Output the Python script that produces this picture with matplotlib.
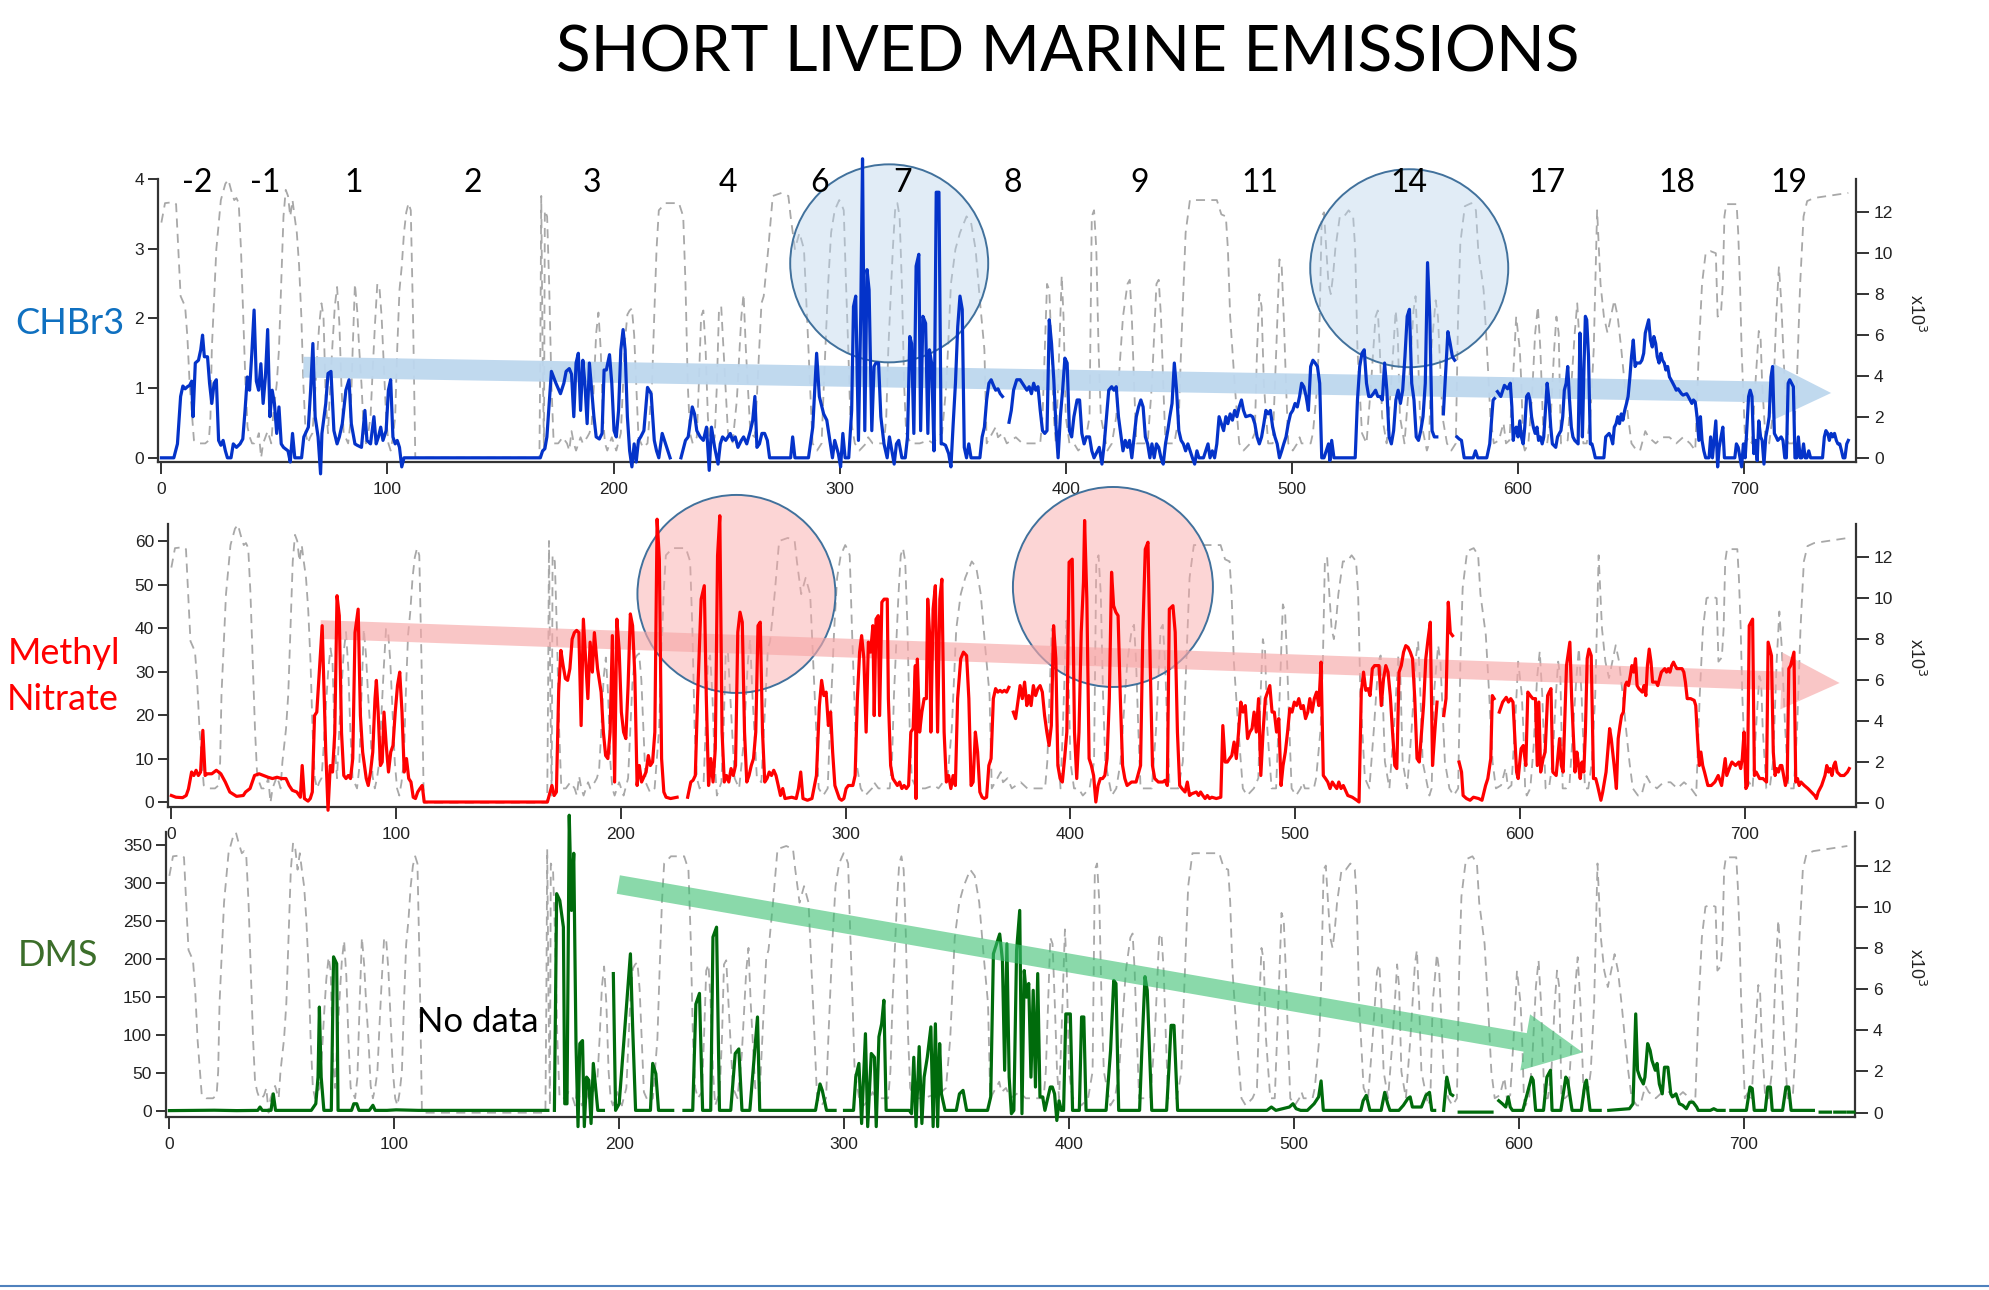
import numpy as np
import matplotlib.pyplot as plt
from matplotlib.patches import Circle
from matplotlib.lines import Line2D
from matplotlib.transforms import Affine2D, ScaledTranslation

nan = float("nan")

# ---- data ----
# altitude trace, right axis (x10^3), same in all three panels
altitude = [
    (0, 11.5), (1.6, 12.45), (5.5, 12.5), (6.5, 12.4), (7.5, 10.2), (8.5, 7.9), (10.5, 7.4), (11.5, 5.9),
    (12.5, 3.6), (14.4, 0.85), (16.4, 0.7), (19.4, 0.7), (21, 0.85), (21.7, 2), (22.3, 5.3), (24.3, 10.2),
    (26.3, 12.6), (28.3, 13.4), (29.6, 13.6), (30.8, 13.1), (32.2, 12.6), (33.2, 12.7), (34.2, 12.45),
    (35.2, 10.2), (36.2, 6.9), (37.2, 3.6), (38.1, 1.5), (39.1, 1), (40.1, 0.7), (41.1, 0.7), (42.1, 0.85),
    (43.1, 1.2), (44.1, 0), (45, 0.7), (46, 1), (47, 1.3), (48.6, 0.7), (49.4, 2), (51, 3.6), (52, 5.3),
    (53, 8.5), (54, 11.8), (55, 13.1), (56, 12.8), (57, 11.8), (58, 12.6), (58.9, 11.8), (59.9, 11),
    (60.9, 9.4), (61.9, 6.9), (62.8, 3.6), (63.8, 1.2), (64.8, 0.7), (65.8, 1), (66.8, 1.2), (67.8, 2.8),
    (68.8, 4.8), (69.8, 6.5), (70.8, 7.55), (71.7, 6.9), (72.7, 2.8), (73.7, 1.2), (74.7, 3.6), (75.7, 5.6),
    (76.7, 7.4), (77.7, 8.35), (78.7, 6.6), (79.6, 3.6), (80.6, 1.2), (82.6, 0.7), (83.6, 1.7), (84.6, 5.3),
    (85.6, 8.5), (86.6, 7.2), (87.5, 5.3), (88.5, 3.6), (89.5, 1.3), (90.5, 0.7), (91.5, 1.2), (92.5, 2),
    (93.5, 4.4), (94.5, 6.6), (95.5, 8.5), (96.4, 8.4), (97.4, 6.9), (98.4, 4.4), (99.4, 2), (100.4, 0.7),
    (101.4, 0.35), (102.4, 1), (103.4, 2), (104.3, 5.3), (105.3, 8.2), (106.3, 9.35), (107.3, 11),
    (108.3, 12), (109.3, 12.45), (110.3, 12.1), (111.3, 6.9), (112.3, 0), (167.2, 0), (167.6, 5.3),
    (168, 12.8), (168.6, 5.3), (169.2, 0.35), (169.6, 12.1), (170.6, 11.8), (171.5, 8.5), (172.5, 3.6),
    (173.5, 0.7), (175.5, 0.7), (177.5, 1), (179.4, 0.7), (180.4, 0.35), (181.4, 1.3), (182.4, 0.7),
    (183.4, 0.35), (185.4, 1), (186.4, 0.7), (188.3, 1), (189.3, 1.2), (190.3, 1.6), (191.3, 3.6),
    (192.3, 6.1), (193.3, 7.1), (194.3, 5.3), (195.3, 2), (196.2, 0.7), (197.2, 0.35), (199.2, 1),
    (201.2, 0.35), (203.2, 1.2), (204.2, 3.6), (205.1, 5.8), (206.1, 7), (207.1, 7.2), (208.1, 7.3),
    (209.1, 6), (210, 3.6), (211, 1), (213, 0.5), (215, 0.7), (217, 3.6), (218, 7), (219, 10.2), (220, 12.1),
    (223, 12.45), (228.9, 12.45), (230.8, 11.8), (231.8, 8.5), (232.8, 3.6), (233.8, 1.2), (235, 0.7),
    (236.8, 1), (237.7, 3.6), (238.7, 6.9), (239.7, 7.2), (240.7, 5.3), (241.7, 2), (242.7, 0.35),
    (244.7, 1), (245.7, 3.6), (246.6, 7.2), (247.6, 7.4), (248.6, 5.3), (250.6, 1.2), (252.6, 0.7),
    (254.5, 2.8), (256.5, 6.9), (257.5, 8), (258.5, 5.3), (260.5, 1.2), (262.5, 1), (264.4, 5.3),
    (265.4, 7.55), (266.4, 7.9), (268.4, 10.2), (270.4, 12.8), (274.3, 12.95), (277.3, 12.8), (278.3, 11.8),
    (280.2, 10.2), (282.2, 11), (284.2, 10.2), (286.2, 5.3), (288, 0.7), (290, 0.35), (292, 0.7), (293, 3.6),
    (294.9, 8.5), (296.2, 11), (297.8, 12.1), (299.8, 12.6), (300.8, 12.4), (301.8, 12.1), (302.8, 8.5),
    (303.8, 5.3), (304.7, 2), (306.7, 0.7), (308.7, 0.35), (311.7, 0.7), (312.6, 1), (314.6, 0.7),
    (319.6, 0.7), (320.6, 2), (321.5, 5.3), (323.5, 10.2), (324.5, 12.1), (325.5, 12.45), (326.5, 11.8),
    (327.5, 8.5), (328.5, 3.6), (329.4, 1.2), (331.4, 0.7), (335.4, 0.7), (339.3, 0.85), (341.3, 0.7),
    (343.3, 1), (345.3, 1.2), (347.2, 3.6), (349.2, 8.5), (351.2, 10.2), (353.2, 11), (356.1, 11.8),
    (358.1, 11.5), (360.1, 10.2), (362, 7.7), (364, 5.3), (365, 0.7), (369, 1.5), (370, 1), (372, 1.2),
    (373.9, 0.7), (377.9, 1), (380.8, 0.7), (388.7, 0.7), (389.7, 2), (390.7, 5.3), (391.7, 8.5),
    (392.7, 8.2), (393.7, 5.3), (394.7, 2), (395.6, 0.7), (396.6, 3.6), (397.6, 6.9), (398.2, 8.9),
    (399, 6.9), (400, 2), (401.6, 0.7), (403.6, 0.7), (405.5, 0.35), (408.5, 0.7), (410.5, 2), (411.5, 11.8),
    (412.5, 12.1), (413.5, 10.2), (414.5, 5.3), (415.5, 2), (418.4, 0.35), (420.4, 0.7), (422.3, 2),
    (425.3, 6.9), (427.3, 8.5), (428.3, 8.7), (429.2, 6.9), (430.2, 3.6), (431.2, 0.7), (436.2, 0.7),
    (438.1, 3.6), (440.1, 8.5), (441.1, 8.7), (442.1, 6.9), (443.1, 3.6), (444.1, 0.7), (448, 0.7),
    (450, 2), (451, 5.3), (453, 11), (454.9, 12.6), (466.8, 12.6), (468.8, 11.9), (470.8, 11.8),
    (471.7, 10.2), (472.7, 6.9), (474.7, 3.6), (476.7, 0.7), (478.6, 0.35), (481.6, 0.7), (483.6, 1.2),
    (484.6, 5.3), (485.6, 8), (486.6, 7.4), (487.6, 3.6), (489.5, 0.7), (491.5, 0.7), (493.1, 5.3),
    (494.5, 9.7), (495.5, 9.35), (496.4, 6.9), (497.4, 3.6), (498.4, 0.7), (500.4, 0.35), (502.4, 0.7),
    (503.4, 1), (504.3, 0.7), (508.3, 0.7), (509.3, 1.2), (511.3, 3.6), (512.3, 6.9), (513.2, 11.8),
    (514.2, 12), (515.2, 10.2), (516.2, 8.5), (517.2, 8), (518.2, 8.9), (519.2, 10.2), (521.2, 11.8),
    (523.1, 11.8), (525.1, 12.1), (527.1, 11.8), (528, 10.2), (529, 5.3), (531, 1.2), (533, 0.7),
    (535, 3.6), (537, 6.9), (538, 7.2), (538.9, 5.3), (539.9, 2), (541.9, 0.7), (543.9, 3.6), (545.9, 7.2),
    (546.8, 6.1), (547.8, 2), (549.8, 0.7), (551.8, 3.6), (553.8, 7.2), (554.7, 7.9), (555.7, 5.3),
    (556.7, 2), (559.7, 0.35), (560.7, 0.7), (561.7, 5.3), (563.6, 7.7), (564.6, 6.9), (566.6, 2),
    (568.6, 0.7), (570.5, 0.35), (572.5, 0.7), (573.5, 6.9), (574.5, 10.5), (576.5, 12.3), (579.4, 12.45),
    (581.4, 12.1), (582.4, 10.2), (584.8, 8.2), (586.3, 5.3), (587.8, 2), (589.3, 0.7), (591.6, 0.85),
    (592.4, 1.2), (593.6, 1.7), (594.7, 0.7), (596.2, 0.85), (597.7, 3.6), (599.2, 6.9), (600, 6.1),
    (600.8, 5.3), (601.5, 3.6), (602.3, 0.7), (603, 0.35), (604.6, 0.7), (606.1, 2.8), (607.6, 6.1),
    (608.8, 7.4), (609.9, 5.3), (611.4, 0.7), (612.9, 0.7), (614.5, 2), (616, 5.3), (617, 6.9), (618, 6.1),
    (619, 0.7), (620.5, 0.7), (622, 0.85), (623.6, 3.6), (625.1, 6.1), (626.2, 7.55), (627.4, 5.3),
    (628.9, 0.7), (630.4, 0.7), (632, 2), (633.5, 5.3), (634.2, 8.5), (635, 12.1), (635.8, 10.2),
    (636.5, 8.5), (638, 6.9), (639.6, 6.1), (641.1, 6.9), (642.6, 7.7), (644.1, 6.9), (645.7, 5.3),
    (647.2, 3.6), (648.7, 2), (650.2, 0.7), (652.5, 0.35), (654, 0.35), (656.3, 1.3), (657.8, 1),
    (660.9, 0.7), (663.9, 1), (667, 1), (670, 0.7), (673, 1), (676.1, 0.7), (678.4, 0.35), (680, 5.3),
    (681.4, 8.5), (683, 10), (685.2, 10.1), (687.5, 10), (688.3, 6.9), (689.8, 7.1), (690.6, 8.5),
    (691.3, 11.8), (692.1, 12.4), (696.7, 12.4), (697.4, 11), (698.2, 8.5), (698.9, 5.3), (700.5, 0.7),
    (702, 1), (703.5, 0.7), (705, 3.6), (706.5, 6.2), (707.3, 5.9), (708, 3.6), (709.6, 0.7), (711.1, 0.7),
    (712.6, 2), (714.2, 6.9), (715.4, 9.35), (716.4, 7.7), (718, 3.6), (719.5, 0.7), (721.8, 0.7),
    (723.3, 3.6), (724.8, 8.5), (726.3, 11.8), (727.9, 12.55), (730.9, 12.7), (737, 12.8), (746.1, 12.95),
]

chbr3 = [
    (0, 0), (5.5, 0), (7.1, 0.2), (8.5, 0.88), (9.5, 1.03), (10.5, 0.99), (11.5, 1.02), (12.5, 1.04),
    (13.4, 1.1), (14, 0.59), (15, 1.36), (16.4, 1.4), (17.4, 1.55), (18.2, 1.76), (19, 1.45), (20.4, 1.45),
    (21.3, 1.07), (22.3, 0.78), (23.3, 1.07), (24.3, 1.12), (25.3, 0.25), (26.3, 0.18), (27.3, 0.25),
    (28.3, 0.1), (29.2, 0), (30.8, 0), (31.8, 0.2), (33.2, 0.15), (34.8, 0.2), (36, 0.27), (37, 0.68),
    (38, 1.16), (39, 0.97), (40, 1.5), (41, 2.12), (42, 1.1), (43, 0.97), (44, 1.35), (45, 0.78), (46, 1.16),
    (47, 1.84), (48, 0.59), (49, 0.97), (50, 0.78), (51, 0.35), (52, 0.73), (53, 0.2), (54, 0.15), (56, 0.1),
    (57, -0.06), (58, 0.35), (59, 0), (62, 0), (63, 0.3), (65, 0.44), (66, 0.97), (67, 1.64), (68, 0.59),
    (69.3, 0.3), (70.4, -0.23), (71, 0.35), (72.7, 0.78), (73.7, 1.21), (75, 1.24), (76.3, 0.39),
    (77.7, 0.2), (78.7, 0.3), (80, 0.49), (81.6, 0.97), (83, 1.12), (84, 0.49), (85.6, 0.2), (86.6, 0.18),
    (88.5, 0.15), (90, 0.68), (90.9, 0.25), (92.5, 0.2), (94, 0.59), (95, 0.2), (96, 0.3), (97, 0.44),
    (98, 0.25), (99.4, 0.39), (100.4, 0.97), (101.4, 1.12), (102.4, 0.3), (103.4, 0.2), (104.3, 0.25),
    (105.3, 0.15), (106.3, -0.13), (107.3, 0), (167.6, 0), (168.6, 0.1), (169.6, 0.13), (170.5, 0.3),
    (172.5, 1.24), (174.5, 1.07), (176.5, 0.92), (178, 1.07), (179, 1.24), (180.4, 1.28), (181.4, 1.2),
    (182.4, 0.59), (183.4, 1.36), (184.4, 1.5), (185.4, 0.68), (186.4, 1.4), (187.3, 1.07), (188.3, 0.49),
    (189.3, 1.36), (190.3, 0.97), (191.3, 0.59), (192.3, 0.3), (193.7, 0.27), (194.9, 0.35), (195.8, 1.26),
    (196.8, 1.26), (198.2, 1.48), (199.2, 1.07), (200.2, 0.39), (201.2, 0.3), (202.2, 0.68), (203.2, 1.55),
    (204.2, 1.84), (205.1, 1.55), (206.1, 0.59), (207.1, 0.1), (208.1, -0.13), (209.1, 0.2), (210, -0.06),
    (211, 0.25), (212, 0.3), (213.4, 0.39), (215, 1.01), (216.6, 0.92), (218, 0.25), (219, 0.1), (220, 0),
    (221.5, 0.35), (222.5, 0.25), (224, 0.1), (225, 0), (227, nan), (229.8, 0), (231.8, 0.25), (233, 0.3),
    (234.8, 0.73), (235.8, 0.63), (236.8, 0.39), (238.3, 0.3), (239.7, 0.25), (241.1, 0.44),
    (242.3, -0.18), (243.3, 0.44), (244.7, 0.15), (246.2, -0.09), (247.2, 0.2), (248.2, 0.3), (249.6, 0.25),
    (251.6, 0.35), (252.6, 0.25), (253.8, 0.3), (255, 0.15), (256.5, 0.25), (257.5, 0.3), (258.9, 0.2),
    (260.5, 0.39), (261.5, 0.53), (262.5, 0.88), (263.4, 0.15), (264.5, 0.2), (265.6, 0.35), (266.8, 0.35),
    (268, 0.25), (269, 0), (278.3, 0), (279.2, 0.3), (280.2, 0), (286.2, 0), (288.1, 0.44), (289.8, 1.5),
    (291, 0.88), (292.9, 0.63), (294.3, 0.54), (295.9, 0.2), (296.8, 0), (297.8, 0.25), (299.4, 0.06),
    (300.4, -0.13), (301.4, 0.35), (302.4, 0), (304, 0), (305.3, 0.68), (306.1, 2.17), (307.1, 2.32),
    (308.3, 0.25), (309.3, 2.03), (310.1, 4.29), (311.1, 0.39), (312.1, 2.7), (313, 2.41), (314.2, 0.39),
    (315.2, 1.31), (316, 1.36), (317.2, 1.36), (318.2, 0.59), (319.6, 0.2), (321, 0), (322, 0.3),
    (323.1, 0.1), (324.1, -0.09), (325.1, 0.2), (326.1, 0.25), (327.5, 0), (329, 0), (330, 0.3), (331, 1.74),
    (331.8, 1.64), (332.8, 0.35), (333.8, 2.75), (335, 2.92), (335.8, 0.39), (336.8, 2.03), (338, 1.93),
    (339, 0.35), (339.7, 1.55), (340.7, 1.35), (341.7, 0.1), (342.7, 3.81), (343.9, 3.81), (344.9, 0.2),
    (345.7, 0.2), (346.8, 0.18), (348.2, 0.06), (349.2, -0.13), (350.2, 0.49), (351.2, 1.07), (352.2, 1.88),
    (353.2, 2.32), (354.2, 2.13), (355.1, 0.15), (356.1, 0), (357.1, 0.2), (358.1, 0), (362, 0), (363, 0.3),
    (364, 0.44), (365, 0.83), (366, 1.07), (367, 1.12), (368, 1.04), (369, 0.97), (370, 0.99), (371, 0.92),
    (372, 0.88), (373.5, nan), (374.9, 0.51), (375.9, 0.68), (376.9, 0.97), (378.3, 1.12), (379.8, 1.12),
    (380.8, 1.07), (381.8, 1.02), (382.8, 0.97), (383.8, 1.02), (384.8, 0.92), (385.8, 1.07), (386.7, 0.97),
    (387.7, 1.02), (388.7, 0.68), (389.7, 0.39), (390.7, 0.35), (391.7, 0.39), (392.7, 1.98), (393.7, 1.64),
    (394.7, 1.12), (395.6, 0.49), (396.6, 0), (397.6, 0.59), (398.6, 0.97), (399.6, 1.43), (400.6, 1.36),
    (401.6, 0.39), (402.6, 0.3), (403.6, 0.59), (405, 0.83), (406.1, 0.83), (407.1, 0.35), (408.1, 0.2),
    (409.1, 0.3), (410.5, 0.3), (411.5, 0.1), (412.5, 0), (414, 0.1), (414.8, 0.15), (416, -0.09), (417, 0.2),
    (418, 0.59), (419, 0.97), (420.3, 1.02), (421.3, 0.97), (422.3, 1.02), (423.3, 0.59), (424.3, 0.35),
    (425.3, 0.1), (426.3, 0.25), (427.3, 0.15), (428.2, 0.25), (429.2, 0), (430.2, 0.3), (431.2, 0.59),
    (432.2, 0.73), (433.2, 0.83), (434.2, 0.73), (435.2, 0.3), (436.2, 0.2), (437.2, 0), (438.1, 0.2),
    (439.1, 0), (440.1, 0.2), (441.1, 0.15), (442.1, 0), (443.1, -0.09), (444.1, 0.2), (445.1, 0.39),
    (446, 0.59), (447, 0.78), (448, 1.36), (449, 0.97), (450, 0.39), (451, 0.25), (452, 0.2), (453, 0.1),
    (454, 0.2), (455, 0.1), (456, 0), (457, -0.09), (458, 0.1), (458.9, 0), (460.9, 0), (461.9, 0.1),
    (462.9, 0.2), (463.8, 0), (464.8, 0.1), (465.8, 0), (466.8, 0.2), (467.8, 0.59), (468.8, 0.49),
    (469.8, 0.39), (470.8, 0.59), (471.7, 0.49), (472.7, 0.63), (473.7, 0.54), (474.7, 0.68), (475.7, 0.59),
    (476.7, 0.73), (477.7, 0.83), (478.6, 0.68), (479.6, 0.59), (481.6, 0.61), (482.6, 0.59), (483.6, 0.49),
    (484.6, 0.3), (485.6, 0.2), (486.6, 0.3), (487.6, 0.49), (488.5, 0.68), (489.5, 0.63), (490.5, 0.68),
    (491.5, 0.44), (492.5, 0.3), (493.5, 0.2), (494.5, 0), (495.5, 0.1), (496.4, 0.2), (497.4, 0.3),
    (498.4, 0.49), (499.4, 0.63), (500.4, 0.68), (501.4, 0.78), (502.4, 0.73), (503.4, 0.88), (504.3, 1.07),
    (505.3, 1.02), (506.3, 0.88), (507.3, 0.68), (508.3, 1.31), (509.3, 1.4), (510.3, 1.36), (511.3, 1.31),
    (512.3, 1.07), (513.2, 0), (514.2, 0), (515.2, 0.1), (516.2, 0.2), (516.8, -0.04), (517.6, 0.25),
    (518.6, 0), (528, 0), (529, 0.83), (530, 1.31), (531, 1.5), (532, 1.55), (533, 1.07), (534, 0.88),
    (535, 0.88), (536, 0.92), (537, 0.97), (538, 0.88), (539, 0.88), (540, 0.83), (541, 1.36), (542, 0.97),
    (543, 0.3), (544, 0.2), (545, 0.39), (546, 0.83), (547, 0.97), (548, 0.78), (549, 0.97), (550, 1.45),
    (551, 2.03), (552, 2.13), (553, 1.07), (554, 0.83), (555, 0.3), (556, 0.25), (557, 0.39), (558, 0.59),
    (559, 1.07), (560, 2.8), (561, 2.03), (562, 0.39), (563, 0.3), (564.1, 0.3), (565.5, nan), (567, 0.63),
    (568, 1.21), (569, 1.81), (570, 1.64), (571, 1.45), (572, 1.4), (572.5, nan), (573, 0.3), (574, 0.27),
    (575, 0.25), (576.2, 0), (580.2, 0), (581.2, 0.1), (582.2, 0), (586.2, 0), (587.5, 0.2), (589, 0.83),
    (589.6, 0.85), (590.2, nan), (590.9, 0.95), (592.4, 0.88), (594, 1.04), (595.4, 0.99), (596.6, 1.07),
    (597.3, 0.73), (597.9, 0.25), (598.5, 0.39), (599.2, 0.44), (600, 0.3), (600.8, 0.53), (601.5, 0.3),
    (602.3, 0.2), (603, 0.44), (603.8, 0.88), (604.6, 0.92), (605.3, 0.83), (606, 0.59), (606.8, 0.44),
    (607.6, 0.35), (608.4, 0.44), (609.1, 0.25), (609.9, 0.3), (610.7, 0.2), (611.4, 0.3), (612.2, 0.72),
    (612.9, 1.07), (613.7, 0.83), (614.5, 0.44), (615.2, 0.2), (616.7, 0.15), (617.5, 0.3), (618.3, 0.35),
    (619, 0.39), (619.8, 0.59), (620.5, 0.97), (621.3, 1.07), (622, 1.31), (622.8, 0.83), (623.6, 0.44),
    (624.3, 0.3), (625.1, 0.25), (626.6, 0.2), (627.4, 1.79), (627.9, 1.07), (628.5, 0.3), (629.2, 1.31),
    (629.8, 2.03), (630.4, 1.98), (631.2, 1.45), (632, 0.2), (632.7, 0.2), (633.5, 0.1), (634.2, 0),
    (638, 0), (638.8, 0.3), (640.3, 0.35), (641.1, 0.3), (641.9, 0.2), (642.6, 0.44), (643.4, 0.49),
    (644.1, 0.59), (644.9, 0.49), (645.7, 0.63), (646.4, 0.54), (647.2, 0.68), (648, 0.78), (648.7, 0.88),
    (649.5, 1.16), (650.2, 1.45), (651, 1.69), (651.8, 1.31), (652.5, 1.36), (654, 1.36), (654.8, 1.4),
    (655.6, 1.5), (656.3, 1.79), (657, 1.88), (657.8, 1.98), (658.6, 1.69), (659.4, 1.59), (660.1, 1.74),
    (660.9, 1.64), (661.6, 1.45), (662.4, 1.36), (663.2, 1.5), (663.9, 1.4), (664.7, 1.36), (665.4, 1.26),
    (666.2, 1.31), (667, 1.16), (667.7, 1.12), (668.5, 1.07), (669.3, 1.02), (670, 0.97), (670.8, 0.99),
    (672.3, 0.92), (673, 0.9), (674.6, 0.92), (675.3, 0.88), (676.1, 0.83), (676.9, 0.78), (677.6, 0.83),
    (678.4, 0.8), (679.2, 0.59), (680, 0.25), (680.7, 0.59), (681.4, 0.25), (682.2, 0.1), (683, 0),
    (684.5, 0), (685.2, 0.3), (686, 0), (687.5, 0.53), (688.3, -0.13), (689, 0.15), (689.8, 0.3),
    (690.6, 0.44), (691.3, 0), (695.9, 0), (696.6, 0.2), (697.4, 0.15), (698.2, 0), (698.9, -0.13),
    (699.7, 0.2), (700.5, 0), (702, 0.88), (702.7, 0.97), (703.5, 0.88), (704.3, 0.06), (705, 0.25),
    (705.8, -0.04), (706.5, 0.53), (707.3, 0.3), (708, 0.25), (708.8, -0.09), (709.6, 0.3), (710.4, 0.44),
    (711.1, 0.59), (711.9, 1.16), (712.6, 1.31), (713.4, 0.35), (714.2, 0.3), (714.9, 0.25), (716.4, 0.3),
    (717.2, 0.25), (718, 0), (718.7, 0), (719.5, 1.07), (720.2, 1.12), (721, 1.07), (721.8, 1.02),
    (722.5, 0), (723.3, 0), (724, 0.3), (724.8, 0), (725.5, 0), (726.3, 0.2), (727, 0), (727.8, 0),
    (728.6, 0.1), (729.4, 0), (734.7, 0), (735.5, 0.3), (736.2, 0.39), (737, 0.35), (737.7, 0.25),
    (738.5, 0.35), (739.2, 0.3), (740, 0.35), (740.8, 0.25), (741.5, 0.2), (742.3, 0.2), (743.1, 0.1),
    (743.8, 0), (744.6, 0), (745.4, 0.2), (746.1, 0.25),
]

methyl_nitrate = [
    (0, 1.5), (2, 1.1), (5, 1), (6.6, 1.5), (7.6, 3), (9, 6.9), (10, 6.1), (11, 7.3), (12, 6.1), (13, 6.9),
    (14, 16.5), (15, 6.1), (16, 6.5), (18, 6.5), (20, 7.3), (22, 6.5), (24, 4.6), (26, 2.3), (29, 1.3),
    (32, 1.5), (33, 2.3), (35, 3.1), (37, 6.1), (39, 6.5), (41, 6.1), (43, 5.7), (45, 5.4), (47, 5.7),
    (49, 5.4), (51, 5.4), (52.4, 3.8), (53.8, 2.7), (55.8, 2.3), (57.4, 1.1), (58.2, 8.4), (59.2, 0.8),
    (60.8, 0.2), (61.8, 0.8), (62.7, 2.3), (63.7, 19.9), (64.7, 20.7), (65.7, 29.1), (67.1, 40.6),
    (68.7, 11.5), (69.7, -1.9), (70.7, 8.4), (71.7, 6.9), (72.7, 16), (73.7, 47.5), (74.7, 42.9),
    (75.7, 16), (76.7, 6.1), (77.7, 5.4), (78.7, 6.1), (79.7, 5.4), (80.7, 10), (81.7, 39), (83.1, 44.4),
    (84.1, 19.9), (85.1, 11.5), (86.7, 5.4), (87.6, 3.8), (88.6, 6.9), (89.6, 11.5), (90.6, 23.8),
    (91.2, 28), (92, 20.7), (93, 8.4), (93.8, 9.2), (94.6, 20.7), (95.6, 13), (96.6, 6.9), (97.6, 11.5),
    (98.6, 13), (99.6, 20.7), (100.6, 26.8), (101.6, 29.9), (102.6, 20.7), (103.6, 6.9), (104.6, 10),
    (105.6, 5.4), (106.6, 4.6), (107.6, 1.1), (108.6, 0.8), (109.6, 2.3), (110.6, 3.1), (111.6, 3.8),
    (112.5, 0), (167.3, 0), (168.3, 1.9), (169.3, 3.8), (170.3, 1.5), (171.3, 2.3), (172.3, 25.3),
    (173.3, 34.9), (174.3, 31.4), (175.3, 28.4), (176.3, 28), (177.3, 30.7), (178.3, 37.5), (179.3, 39),
    (180.3, 39.5), (181.3, 39), (182.3, 17.6), (183.3, 42.1), (184.3, 32.9), (185.3, 23.8), (186.3, 36.8),
    (187.3, 29.9), (188.2, 39), (189.6, 30.7), (191.2, 25.3), (192.2, 16.1), (193.2, 10.7), (194.2, 10),
    (195.2, 16.1), (196.2, 38.3), (197.2, 4.6), (198.2, 42.1), (199.2, 35.2), (200.2, 20.7), (201.2, 16.1),
    (202.2, 14.6), (203.2, 26.8), (204.2, 43.3), (205.2, 40.6), (206.2, 29.1), (207.2, 3.8), (208.2, 8.4),
    (209.2, 4.6), (211.2, 6.9), (212.2, 10.7), (213.1, 8.4), (214.1, 9.2), (215.1, 16.1), (216.1, 65.1),
    (217.1, 55.9), (218.1, 10), (219.1, 2.3), (220.1, 1.1), (222.1, 0.8), (225, 1.1), (227, nan),
    (229.7, 1.1), (231.1, 4.6), (232.1, 5), (233.1, 6.1), (234.1, 23.8), (235.7, 46.7), (237.1, 49.8),
    (238, 23.8), (239, 3.8), (240, 10), (241, 4.6), (242, 12.3), (243, 56.7), (244, 65.9), (245, 16.1),
    (246, 4.6), (247, 6.1), (248, 4.6), (249, 7.7), (250, 6.1), (251, 8.4), (252, 39.1), (253, 43.7),
    (254, 41.4), (255, 16.1), (256, 4.6), (257, 6.1), (258, 8.4), (259, 10), (260, 16.1), (261, 40.6),
    (262, 41.4), (263, 16.1), (264, 4.6), (265, 5.4), (266, 6.9), (267, 6.1), (268, 7.3), (269, 6.1),
    (270, 3.8), (271, 1.5), (272, 3.1), (273, 0.8), (276, 1.1), (278, 0.8), (279, 3.1), (280, 6.9),
    (281, 0.8), (283, 0.4), (285, 0.8), (287, 6.1), (288.3, 22.2), (289.3, 28), (290.3, 24.5),
    (291.3, 25.3), (292.3, 17.6), (293.3, 20.7), (294.2, 11.5), (295.2, 3.8), (297.2, 0.8), (298.2, 0.4),
    (299.2, 0.8), (300.2, 3.1), (301.2, 3.8), (303.2, 3.8), (304.2, 6.1), (305.2, 23.8), (306.2, 34.5),
    (307.1, 38.3), (308.1, 33), (309.1, 16.1), (310.1, 36.8), (311.1, 34.5), (312.1, 40.6), (312.7, 19.9),
    (313.5, 42.1), (314.5, 42.9), (315.1, 19.9), (316.1, 46), (317.1, 46.7), (318.5, 46.7), (319, 23.8),
    (320, 8.4), (321, 5.4), (322, 4.6), (323, 3.8), (324, 4.6), (325, 3.1), (326, 3.8), (327, 3.1),
    (328, 3.8), (329, 16.1), (330, 16.9), (331, 31.4), (331.3, 0.8), (331.9, 32.9), (332.9, 16.1),
    (333.9, 20.7), (334.9, 23.8), (335.9, 23.8), (336.5, 46.7), (337.3, 39), (337.9, 16.1), (338.9, 44.4),
    (339.9, 49.8), (340.9, 16.1), (341.9, 46.7), (342.8, 51.3), (343.8, 16.1), (344.8, 4.6), (345.8, 6.1),
    (346.8, 3.1), (347.8, 6.1), (348.8, 3.8), (349.8, 23.8), (351.2, 33), (352.4, 34.5), (353.8, 33.7),
    (354.8, 23.8), (355.8, 3.8), (356.7, 4.6), (357.7, 16.1), (358.7, 11.5), (359.7, 2.3), (360.7, 1.1),
    (361.7, 0.8), (362.7, 1.1), (363.7, 8.4), (364.7, 10), (365.7, 23.8), (366.7, 26.1), (367.7, 25.3),
    (368.7, 25.7), (369.6, 25.3), (370.6, 25.7), (371.6, 25.3), (372.6, 26.4), (373.6, nan), (374.6, 20.7),
    (375.6, 19.2), (376.6, 23), (377.6, 26.8), (378.6, 23.8), (379.6, 27.6), (380.6, 22.2), (381.5, 24.5),
    (382.5, 22.2), (383.5, 26.8), (384.5, 24.5), (385.5, 26.1), (386.5, 26.8), (387.5, 25.3), (388.5, 19.9),
    (389.5, 16.1), (390.5, 13), (391.5, 17.6), (392.5, 40.6), (393.5, 33), (394.4, 8.4), (395.4, 5.4),
    (396.4, 4.6), (397.4, 10), (398.4, 16.1), (399.4, 55.2), (400.8, 55.9), (401.8, 16.1), (402.8, 5.4),
    (403.8, 16.1), (404.8, 39.1), (405.8, 50.6), (406.3, 64.8), (407.3, 46.7), (408.3, 10), (409.3, 8.4),
    (410.3, 6.1), (411.3, 0), (412.3, 3.8), (413.3, 5.4), (414.3, 5.4), (415.3, 6.1), (416.3, 10),
    (417.3, 23.8), (418.3, 52.9), (419.2, 45.2), (420.2, 43.7), (421.2, 42.9), (422.2, 23.8), (423.2, 8.4),
    (424.2, 5.4), (425.2, 3.8), (427.2, 4.6), (429.2, 4.6), (431.2, 8.4), (432.2, 39.1), (433.3, 58.2),
    (434.5, 59.8), (435.5, 31.4), (436.5, 8.4), (437.5, 5.4), (439.1, 4.6), (441.1, 4.6), (442.1, 5),
    (443.1, 3.8), (444, 44.4), (445.6, 45.2), (446.6, 39.1), (447.6, 16.1), (448.6, 3.8), (449.6, 3.1),
    (451, 2.3), (452, 4.6), (453, 1.5), (454, 1.9), (456, 2.3), (457, 1.5), (457.9, 2.3), (458.9, 1.5),
    (459.9, 0.8), (460.9, 1.5), (461.9, 0.8), (462.9, 1.1), (464.9, 0.8), (466.9, 1.1), (467.8, 17.6),
    (468.8, 9.2), (469.8, 9.2), (470.8, 10), (471.8, 10.7), (472.8, 13.8), (473.8, 10), (474.8, 16.1),
    (475.8, 23), (476.8, 20.7), (477.8, 22.2), (478.8, 14.6), (479.8, 16.1), (480.8, 16.9), (481.7, 20.7),
    (482.7, 16.1), (483.7, 23.8), (484.7, 6.1), (485.7, 16.1), (486.7, 23.8), (487.7, 25.3), (488.7, 26.8),
    (489.7, 20.7), (490.7, 20.7), (491.7, 16.1), (492.7, 19.2), (493.7, 3.8), (494.6, 8.4), (495.6, 11.5),
    (496.6, 16.1), (497.6, 21.5), (498.6, 20.7), (499.6, 23), (500.6, 22.2), (501.6, 23.8), (502.6, 21.5),
    (503.6, 22.2), (504.6, 19.2), (505.6, 20.7), (506.5, 23.8), (507.5, 20.7), (508.5, 23.8), (509.5, 25.3),
    (510.5, 22.2), (511.5, 32.2), (512.5, 6.1), (513.5, 5.4), (514.5, 4.6), (515.5, 3.1), (516.5, 4.6),
    (517.5, 3.8), (518.5, 3.1), (519.4, 4.6), (520.4, 3.1), (521.4, 3.8), (523.4, 1.5), (525.4, 1.1),
    (527.4, 0.4), (528.4, 0), (529.4, 25.3), (530.4, 29.9), (531.4, 25.7), (532.4, 26.1), (533.3, 24.5),
    (534.3, 30.7), (535.3, 31.4), (537.3, 31.4), (538.3, 22.2), (539.3, 28.4), (540.3, 31.4), (541.3, 29.9),
    (542.3, 24.5), (543.3, 16.1), (544.3, 8.4), (545.2, 7.7), (546.2, 29.9), (547.2, 31.4), (548.2, 34.5),
    (549.2, 36), (550.2, 35.6), (551.2, 34.5), (552.2, 33), (553.2, 23.8), (554.2, 10), (555.2, 9.2),
    (556.2, 16.1), (557.1, 22.2), (558.1, 33), (559.1, 37.5), (560.1, 41.4), (561.1, 8.4), (562.1, 16.1),
    (563.1, 23), (564.5, nan), (566.1, 19.9), (567.1, 23.8), (568.1, 46), (569, 39), (570, 38.3),
    (571.5, nan), (572.9, 9.2), (574, 6.9), (574.7, 1.5), (576.2, 0.8), (577.8, 0.4), (579.3, 1.1),
    (581.6, 0.8), (583.1, 0.4), (584.7, 3.8), (585.7, 5.4), (587, 10), (587.7, 24.5), (588.5, 23.8),
    (589.6, nan), (590.8, 20.7), (592.3, 23), (593.9, 24.1), (594.9, 23), (595.9, 23.8), (596.9, 23),
    (598.5, 6.9), (599.2, 5.4), (600.5, 12.3), (601.5, 13), (602.6, 8.4), (603.5, 25.3), (604.6, 24.5),
    (605.7, 23.8), (606.9, 23.8), (607.7, 8.4), (608.4, 23), (609.2, 6.9), (610.3, 10), (611.2, 11.5),
    (612.3, 24.5), (613, 25.3), (613.8, 26.1), (614.6, 6.9), (616.1, 6.1), (617.6, 14.6), (618.4, 8.4),
    (619.2, 6.9), (620.7, 31.4), (622.2, 36.8), (623, 23.8), (624.5, 6.9), (625.3, 11.5), (626.1, 8.4),
    (626.8, 5.4), (627.6, 9.2), (628.4, 6.9), (629.1, 16.1), (629.9, 33), (630.7, 35.2), (631.7, 33.7),
    (632.7, 5.4), (633.7, 5.4), (634.5, 3.8), (636, 0.4), (636.8, 2.3), (638.3, 6.9), (639.9, 16.9),
    (640.6, 14.6), (641.9, 8.4), (642.9, 3.1), (643.7, 14.6), (644.5, 17.6), (645.2, 19.9), (646, 20.7),
    (646.8, 26.8), (647.5, 27.6), (648.3, 26.8), (649.1, 29.1), (649.8, 31.4), (650.6, 29.9), (651.4, 33),
    (652.1, 26.8), (652.9, 26.1), (654.4, 25.3), (655.2, 26.8), (656, 24.5), (656.7, 31.4), (657.5, 35.2),
    (658.3, 32.2), (659, 27.6), (660.6, 27.6), (661.3, 26.8), (662.1, 28.4), (662.9, 29.9), (664.4, 30.7),
    (665.2, 29.9), (666, 30.7), (666.7, 29.9), (667.5, 31.4), (668.3, 32.2), (669, 31.4), (669.8, 30.7),
    (672.1, 30.7), (672.9, 29.9), (673.6, 27.6), (674.4, 23.8), (675.9, 23.8), (677.5, 23.4), (678.2, 22.2),
    (679, 14.6), (679.8, 8.4), (680.5, 11.5), (681.3, 8.4), (682.1, 6.9), (683.6, 3.8), (685.1, 3.8),
    (686.7, 4.6), (688.2, 6.1), (689.7, 3.8), (691.3, 10), (692, 6.1), (693.6, 8.4), (694.3, 9.2),
    (695.9, 8.4), (697.4, 9.2), (698.2, 7.7), (698.9, 10), (699.7, 16.1), (700.5, 3.1), (701.2, 3.8),
    (702, 40.6), (702.8, 41.4), (703.5, 42.1), (704.3, 6.1), (705.1, 6.9), (706.6, 5.4), (708.1, 5.4),
    (709.7, 4.6), (710.4, 36.8), (711.2, 35.2), (711.9, 33.7), (712.7, 11.5), (713.5, 6.1), (714.2, 7.7),
    (715, 6.9), (715.8, 8.4), (716.5, 8.4), (718.1, 3.8), (718.9, 5.4), (719.6, 30.7), (720.4, 31.4),
    (721.2, 33), (721.9, 34.5), (722.7, 4.6), (723.5, 5.4), (724.2, 3.8), (725, 4.6), (726.5, 3.8),
    (728.1, 3.1), (729.6, 2.3), (731.1, 1.5), (731.9, 0.8), (732.7, 2.3), (734.2, 3.8), (735.7, 6.1),
    (736.5, 8.4), (737.3, 6.9), (738, 7.7), (738.8, 6.1), (739.6, 8.4), (740.3, 9.2), (741.1, 6.9),
    (742.6, 6.1), (744.2, 6.1), (745.7, 6.9), (746.5, 7.7),
]

dms = [
    (0, 1), (20, 1.5), (30, 1), (39.3, 1.3), (40.3, 5.7), (41.3, 1.3), (45.2, 1.3), (46.2, 23), (47.2, 1.3),
    (63.1, 1.3), (65.1, 10), (66.1, 45), (66.7, 137), (67.5, 45), (68.7, 1.3), (72, 1.3), (73, 203),
    (74.4, 194), (75, 1.3), (81, 1.3), (82, 10), (83.3, 10), (84.3, 1.3), (88.9, 1.3), (90.5, 8),
    (91.5, 1.3), (96.8, 1.3), (100.8, 2), (110.7, 1.3), (168.3, 1.3), (169.8, nan), (171.2, 1.3),
    (172.2, 286), (173.6, 277), (175.2, 242), (175.8, 10), (176.8, 10), (177.8, 389), (178.8, 264),
    (179.8, 339), (180.8, 89), (181.7, -20), (182.5, 89), (183.7, 93), (184.5, -20), (185.5, 45),
    (186.5, 41), (187.5, -16), (188.5, 63), (189.5, 32), (190.5, 1.3), (193, 1.3), (195, nan), (197.4, 181),
    (198.4, 1.3), (200, 10), (202, 89), (205, 207), (206, 110), (207.3, 1.3), (213.9, 1.3), (214.9, 63),
    (216.3, 49.5), (217.5, 1.3), (223.8, 1.3), (226, nan), (228.8, 1.3), (232.7, 1.3), (234.1, 141),
    (235.7, 155), (237.1, 1.3), (240.7, 1.3), (241.7, 229), (243.3, 242), (244.6, 1.3), (249.6, 1.3),
    (251.6, 76), (253.2, 82), (254.6, 1.3), (258.1, 1.3), (261.5, 124), (262.5, 1.3), (287.3, 1.3),
    (289.3, 36), (290.3, 27.6), (292.2, 1.3), (296, 1.3), (298, nan), (300.2, 1.3), (304.2, 1.3),
    (305.2, 45), (306.6, 63), (307.8, -16), (309.5, 102), (310.5, -20), (312.1, 76), (313.5, 71),
    (314.3, -20), (315.5, 98), (316.7, 115), (317.7, 146), (318.7, 1.3), (329, 1.3), (330, -3), (331, 71),
    (332, -20), (333.4, 85), (334.6, -16), (335.6, 45), (337, 71), (338.6, 111), (339.6, -20), (340.6, 115),
    (341.6, -20), (342.5, 89), (343.3, 23), (344.9, 1.3), (349.9, 1.3), (351.3, 23), (352.9, 27.6),
    (354.5, 1.3), (363.8, 1.3), (365.2, 19), (366.4, 207), (367.8, 220), (369.2, 233), (370.4, 199),
    (371.4, 54), (372.4, 220), (373.4, 45), (374.4, -3), (375.5, 1.3), (376.7, 211), (378.1, 264),
    (379.1, -3), (380.1, 185), (381.1, 150), (382.1, 168), (383.1, 45), (384.1, 159), (385.1, 32),
    (386.1, 181), (387.1, 19), (388.3, 19), (389.3, 1.3), (390.7, 19), (391.7, 32), (392.6, 32), (393.6, 23),
    (394.6, -12), (395.6, 14), (396.6, 1.3), (397.6, 1.3), (398.6, 128), (400.6, 128), (401.6, 1.3),
    (404.6, 1.3), (405.6, 124), (406.6, 124), (407.6, 1.3), (416.5, 1.3), (418.5, 80), (419.9, 172),
    (420.9, 168), (422.1, 1.3), (431.4, 1.3), (432.4, 80), (433.8, 177), (434.8, 159), (436.8, 1.3),
    (443.4, 1.3), (444.4, 54), (445.4, 113), (446.7, 113), (448.3, 1.3), (488, 1.3), (490, 5.7), (492, 1.3),
    (498, 5.7), (499.6, 10), (501, 3.5), (503, 1.3), (506, 1.3), (509, 10), (511, 19), (512.1, 40),
    (513.1, 1.3), (529.8, 1.3), (530.8, 14), (532.2, 21), (533.8, 1.3), (538.8, 1.3), (540.4, 25),
    (541.7, 10), (542.7, 1.3), (546.7, 1.3), (548.7, 8), (550.7, 17), (551.7, 19), (552.7, 5.7),
    (556.7, 5.7), (558.7, 21), (560.3, 25), (561.3, 1.3), (562.6, 1.3), (564.5, nan), (566.6, 1.3),
    (568, 45), (569.6, 23), (570.6, 21), (572, nan), (573.5, -1), (588.1, -1), (589.5, nan), (591.1, 14),
    (592.7, 10), (594.2, 5.7), (595.3, 19), (596.2, 5.7), (597.2, 1.3), (601.8, 1.3), (603.4, 19),
    (605.7, 45), (606.4, 41), (607.5, 1.3), (611, 1.3), (612.5, 45), (614.1, 54), (614.8, 1.3), (618.7, 1.3),
    (620.9, 45), (621.7, 41), (623.7, 1.3), (627.8, 1.3), (629.4, 36), (630.1, 41), (631.7, 1.3),
    (636.2, 1.3), (638, nan), (640, 1.3), (649.2, 3.5), (650.8, 10), (652, 128), (652.8, 54), (653.8, 45),
    (655.4, 36), (656.1, 45), (657.3, 89), (658.4, 80), (659.2, 67), (660.7, 54), (661.5, 63), (662.5, 36),
    (663.8, 23), (664.8, 58), (666.3, 58), (667.6, 23), (668.3, 19), (669.9, 23), (671.4, 10), (672.9, 8),
    (674.5, 3.5), (676, 12), (677.5, 12), (679.1, 5.7), (679.8, 1.3), (685.2, 1.3), (686.7, 3.5),
    (688.2, 1.3), (691.3, 1.3), (692.8, nan), (694.3, 1.3), (701.2, 1.3), (702.8, 32), (703.8, 30),
    (704.7, 1.3), (709.6, 1.3), (710.7, 32), (711.9, 32), (712.7, 1.3), (717.3, 1.3), (718.8, 32),
    (720, 32), (721.1, 1.3), (731, 1.3), (732.5, nan), (734, -1), (738.6, -1), (739.5, nan), (740.5, -1),
    (745, -1), (745.8, nan), (746.5, -1), (749, -1),
]

flight_numbers = ["-2", "-1", "1", "2", "3", "4", "6", "7", "8", "9", "11", "14", "17", "18", "19"]
flight_x = [15.8, 45.7, 85, 137.5, 190.3, 250.6, 291, 327.9, 376.5, 432.8, 486, 551.8, 612.9, 670.3, 719.8]

# ---- figure ----
W, H = 1990, 1290
plt.rcParams["font.family"] = ["Liberation Sans", "DejaVu Sans"]
fig = plt.figure(figsize=(W / 100, H / 100), dpi=100)
px = Affine2D().scale(1 / W, -1 / H).translate(0, 1) + fig.transFigure  # image pixels, y down
CAL = ["Lato", "DejaVu Sans"]
GRAY = "#a8a8a8"
AXC = "#333333"


def make_panel(box, left_ticks, ylim_left):
    l, r, t, b = box
    ax = fig.add_axes([l / W, 1 - b / H, (r - l) / W, (b - t) / H])
    tw = ax.twinx()
    ax.set_zorder(tw.get_zorder() + 1)
    ax.patch.set_visible(False)
    for s in ["top", "right"]:
        ax.spines[s].set_visible(False)
    for s in ["top", "left", "bottom"]:
        tw.spines[s].set_visible(False)
    for sp in [ax.spines["left"], ax.spines["bottom"], tw.spines["right"]]:
        sp.set_color(AXC)
        sp.set_linewidth(1.6)
    ax.tick_params(axis="y", direction="out", length=7, width=1.4, color=AXC, labelsize=12.5,
                   labelcolor="#222222", pad=3)
    ax.tick_params(axis="x", direction="out", length=8.5, width=1.4, color=AXC, labelsize=12.5,
                   labelcolor="#222222", pad=6)
    tw.tick_params(axis="y", direction="out", length=9, width=1.4, color=AXC, labelsize=12.5,
                   labelcolor="#222222", pad=4)
    ax.set_xticks(range(0, 701, 100))
    ax.set_yticks(left_ticks)
    tw.set_yticks(range(0, 13, 2))
    ax.set_xlim(-1.5, 749.5)
    ax.set_ylim(*ylim_left)
    tw.set_ylim(-0.21, 13.63)
    gx, gy = zip(*altitude)
    tw.plot(gx, gy, color=GRAY, lw=1.3, ls=(0, (5, 3.5)))
    return ax, tw


def arrow(ax, start, tip, color, alpha, tail, z):
    ax.annotate("", xy=tip, xytext=start, annotation_clip=False, zorder=z,
                arrowprops=dict(arrowstyle=f"simple,head_length=42,head_width=41,tail_width={tail}",
                                mutation_scale=1, shrinkA=0, shrinkB=0, fc=color, ec="none",
                                lw=0, alpha=alpha))


def circle(ax, center, r_px, fc):
    tr = fig.dpi_scale_trans + ScaledTranslation(center[0], center[1], ax.transData)
    ax.add_patch(Circle((0, 0), r_px / 100, transform=tr, fc=fc, ec="#41719c", lw=1.4,
                        clip_on=False, zorder=1.5))


# top panel: CHBr3
ax1, tw1 = make_panel((158, 1856, 179, 462), range(0, 5), (-0.06, 4.0))
x, y = zip(*chbr3)
ax1.plot(x, y, color="#0433c9", lw=2.3, clip_on=False, zorder=3)
arrow(ax1, (62.8, 1.30), (738.5, 0.93), "#bdd7ee", 0.95, 15, 2)
circle(ax1, (321.9, 2.79), 99, (0.74, 0.84, 0.93, 0.45))
circle(ax1, (551.9, 2.72), 99, (0.74, 0.84, 0.93, 0.45))
for s, xv in zip(flight_numbers, flight_x):
    ax1.text(xv, 3.81, s, ha="center", va="baseline", fontsize=23, family=CAL, color="black")

# middle panel: methyl nitrate
ax2, tw2 = make_panel((168, 1856, 524, 807), range(0, 61, 10), (-1.15, 64))
x, y = zip(*methyl_nitrate)
ax2.plot(x, y, color="#ff0000", lw=2.3, clip_on=False, zorder=3)
circle(ax2, (251.4, 47.9), 99, (0.98, 0.66, 0.66, 0.48))
circle(ax2, (418.9, 49.5), 100, (0.98, 0.66, 0.66, 0.48))
arrow(ax2, (66.3, 39.7), (742.2, 27.4), "#f7a8a8", 0.65, 13.5, 2)

# bottom panel: DMS
ax3, tw3 = make_panel((166, 1855, 832, 1117), range(0, 351, 50), (-7.4, 367))
x, y = zip(*dms)
ax3.plot(x, y, color="#006b0c", lw=2.3, clip_on=False, zorder=3)
arrow(ax3, (199.6, 298), (628.4, 77.5), "#3cc072", 0.6, 13.5, 4)

# ---- texts ----
fig.text(1068, 54, "SHORT LIVED MARINE EMISSIONS", transform=px, ha="center", va="center",
         fontsize=46, family=CAL, color="black")
fig.text(70, 324, "CHBr3", transform=px, ha="center", va="center", fontsize=26, family=CAL,
         color="#0f70c0")
fig.text(64, 653, "Methyl", transform=px, ha="center", va="center", fontsize=26, family=CAL,
         color="#ff0000")
fig.text(63, 699, "Nitrate", transform=px, ha="center", va="center", fontsize=26, family=CAL,
         color="#ff0000")
fig.text(58, 955, "DMS", transform=px, ha="center", va="center", fontsize=26, family=CAL,
         color="#3c6e2a")
fig.text(478, 1022, "No data", transform=px, ha="center", va="center", fontsize=25, family=CAL,
         color="black")
for yc in (313, 657, 967):
    fig.text(1916, yc, "x10$^3$", transform=px, ha="center", va="center", rotation=-90,
             fontsize=13, color="#222222")

fig.add_artist(Line2D([0, W], [1286, 1286], transform=px, color="#4f81bd", lw=1.5))

fig.savefig("out.png", dpi=100)
